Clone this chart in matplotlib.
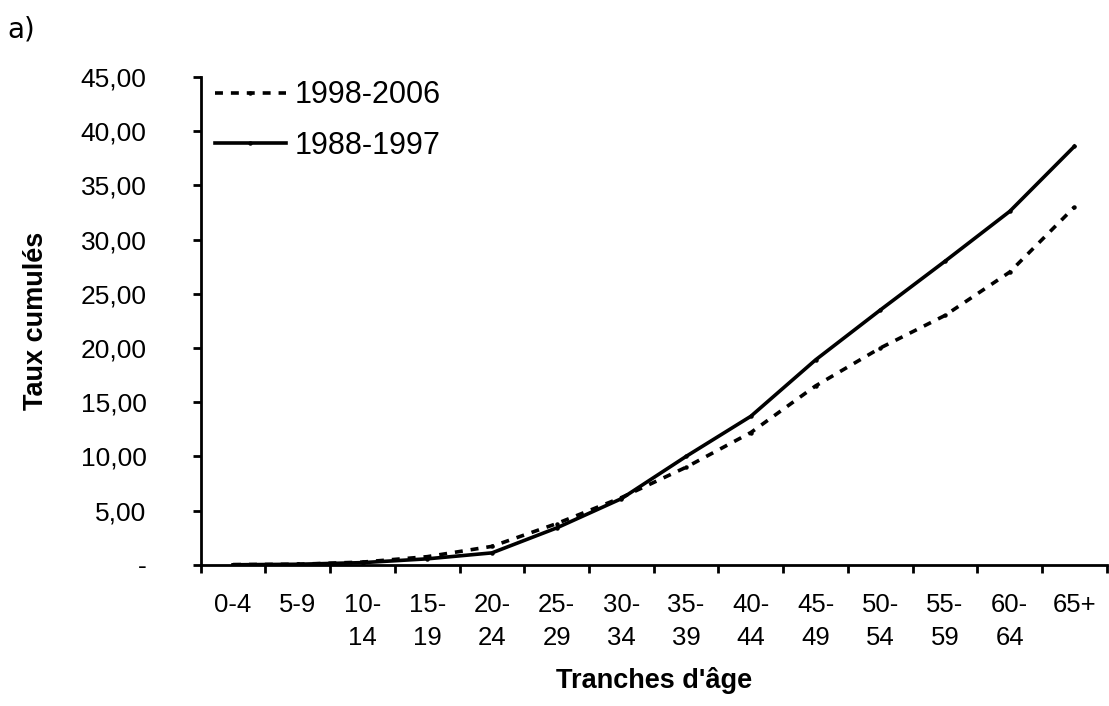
import matplotlib
matplotlib.use("Agg")
import matplotlib.pyplot as plt
import numpy as np

categories = ["0-4", "5-9", "10-\n14", "15-\n19", "20-\n24", "25-\n29", "30-\n34",
              "35-\n39", "40-\n44", "45-\n49", "50-\n54", "55-\n59", "60-\n64", "65+"]
series_1998_2006 = [0.02, 0.05, 0.25, 0.75, 1.7, 3.8, 6.2, 9.0, 12.2, 16.5, 20.0, 23.0, 27.0, 33.0]
series_1988_1997 = [0.0, 0.05, 0.2, 0.55, 1.1, 3.4, 6.1, 10.0, 13.7, 18.9, 23.5, 28.0, 32.6, 38.6]
y_ticks = [0, 5, 10, 15, 20, 25, 30, 35, 40, 45]
y_tick_labels = ["-", "5,00", "10,00", "15,00", "20,00", "25,00", "30,00", "35,00", "40,00", "45,00"]

plt.rcParams['font.family'] = ['Liberation Sans', 'DejaVu Sans']

fig = plt.figure(figsize=(11.09, 7.06), dpi=100)
ax = fig.add_axes([0.181, 0.2, 0.817, 0.691])

x = np.arange(len(categories))
ax.plot(x, series_1998_2006, color='black', lw=2.6, linestyle=(0, (2.2, 2.2)),
        marker='o', markersize=2.2, label='1998-2006')
ax.plot(x, series_1988_1997, color='black', lw=2.6, linestyle='-',
        marker='o', markersize=2.2, label='1988-1997')

ax.set_xlim(-0.5, len(categories) - 0.5)
ax.set_ylim(0, 45)

for s in ['top', 'right']:
    ax.spines[s].set_visible(False)
for s in ['left', 'bottom']:
    ax.spines[s].set_linewidth(2)

ax.set_yticks(y_ticks)
ax.set_yticklabels(y_tick_labels, fontsize=19)
ax.tick_params(axis='y', direction='out', length=6, width=2, pad=33)

ax.set_xticks(np.arange(len(categories) + 1) - 0.5)
ax.set_xticklabels([])
ax.tick_params(axis='x', which='major', direction='out', length=6, width=2)
ax.set_xticks(x, minor=True)
ax.set_xticklabels(categories, minor=True, fontsize=18.5, linespacing=1.5, va='top')
ax.tick_params(axis='x', which='minor', length=0, pad=20)

ax.set_xlabel("Tranches d'âge", fontsize=19.5, fontweight='bold')
ax.xaxis.set_label_coords(0.5, -0.21)
ax.set_ylabel("Taux cumulés", fontsize=19.5, fontweight='bold')
ax.yaxis.set_label_coords(-0.168, 0.5)

ax.legend(loc='upper left', bbox_to_anchor=(0.0155, 0.993), frameon=False, fontsize=22,
          handlelength=2.32, handletextpad=0.3, labelspacing=0.68, borderpad=0, borderaxespad=0,
          numpoints=1)

fig.text(0.007, 0.958, "a)", fontsize=20, family='DejaVu Sans', va='center', ha='left')

fig.savefig("out.png", dpi=100)
